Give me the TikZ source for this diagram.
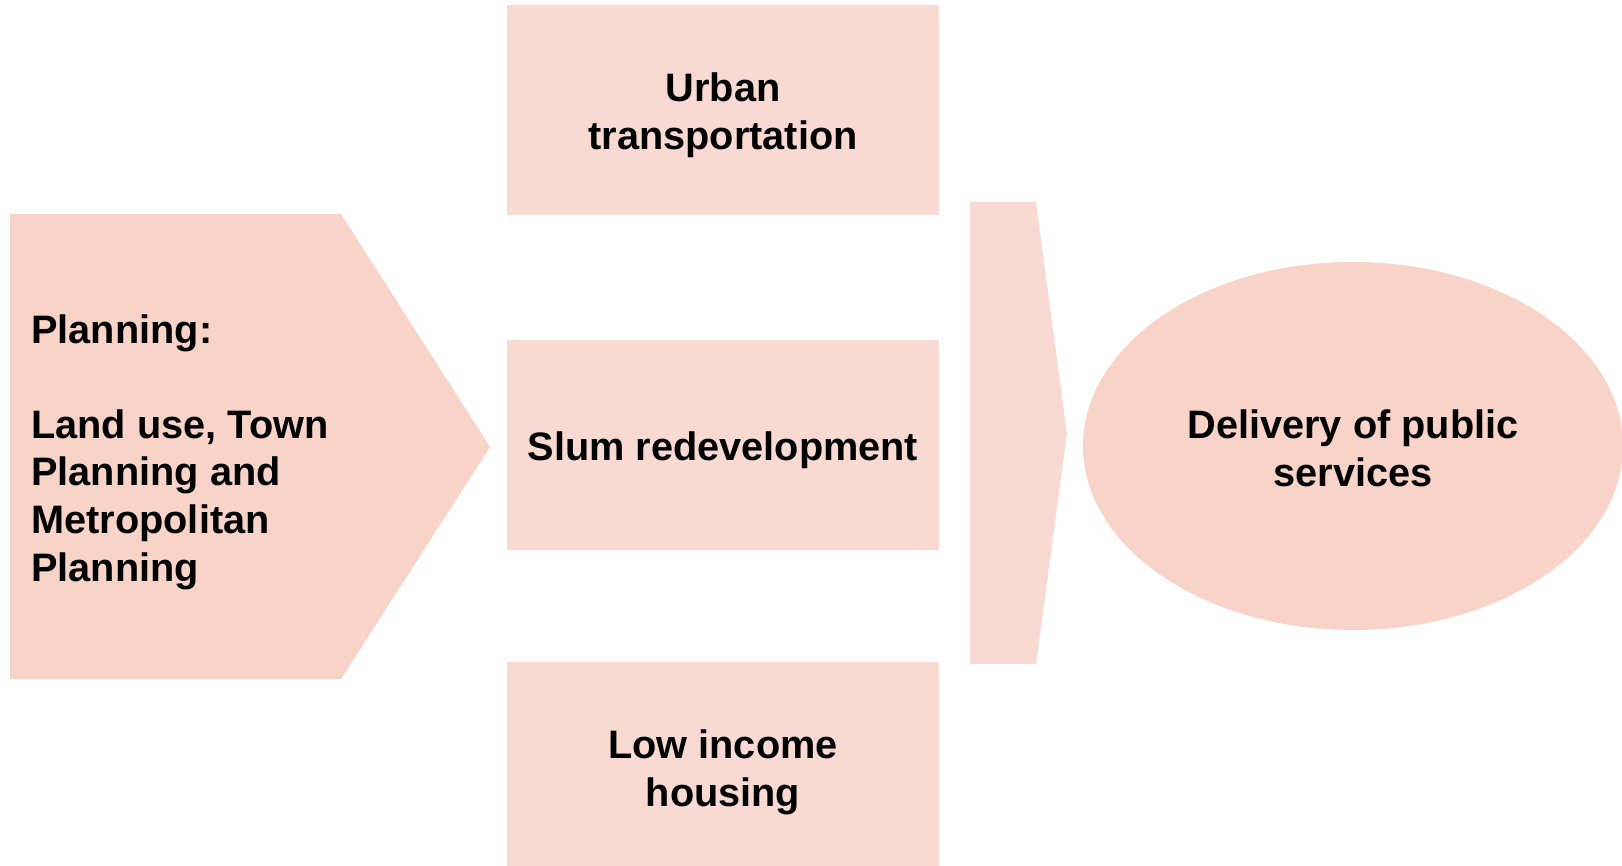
\documentclass[tikz,border=0pt]{standalone}
\usepackage{fontspec}
\setmainfont{Liberation Sans}
\usetikzlibrary{shapes.geometric}
\definecolor{peachdark}{RGB}{248,211,199}
\definecolor{peachlight}{RGB}{249,218,210}

\begin{document}
\begin{tikzpicture}[x=0.5pt,y=-0.5pt,
	every node/.style={inner sep=0pt, align=center, font=\fontsize{19.85}{23.8}\selectfont\bfseries},
	caption/.style={yshift=-2.7pt},
	topicbox/.style={fill=peachlight, minimum width=216pt, minimum height=105pt},
	goalshape/.style={ellipse, fill=peachdark, minimum width=270pt, minimum height=184pt}]
				\useasboundingbox (0,0) rectangle (1622,866);
				% left pentagon arrow
				\fill [peachdark] (10,214) -- (341,214) -- (490,447) -- (341,679) -- (10,679) -- cycle;
				\node [anchor=west, align=left] (planning) at (31,452) {Planning:\\[23.8pt]Land use, Town\\Planning and\\Metropolitan\\Planning};
				% middle column
				\node [topicbox, label={[caption]center:{Urban\\transportation}}] (transport) at (723,110) {};
				\node [topicbox, label={[caption]center:{Slum redevelopment}}] (slum) at (723,445) {};
				\node [topicbox, label={[caption]center:{Low income\\housing}}] (housing) at (723,767) {};
				% chevron
				\fill [peachlight] (970,202) -- (1036,202) -- (1067,434) -- (1036,664) -- (970,664) -- cycle;
				% goal
				\node [goalshape, label={[caption, yshift=1.4pt]center:{Delivery of public\\services}}] (delivery) at (1353,446) {};
			\end{tikzpicture}
\end{document}
